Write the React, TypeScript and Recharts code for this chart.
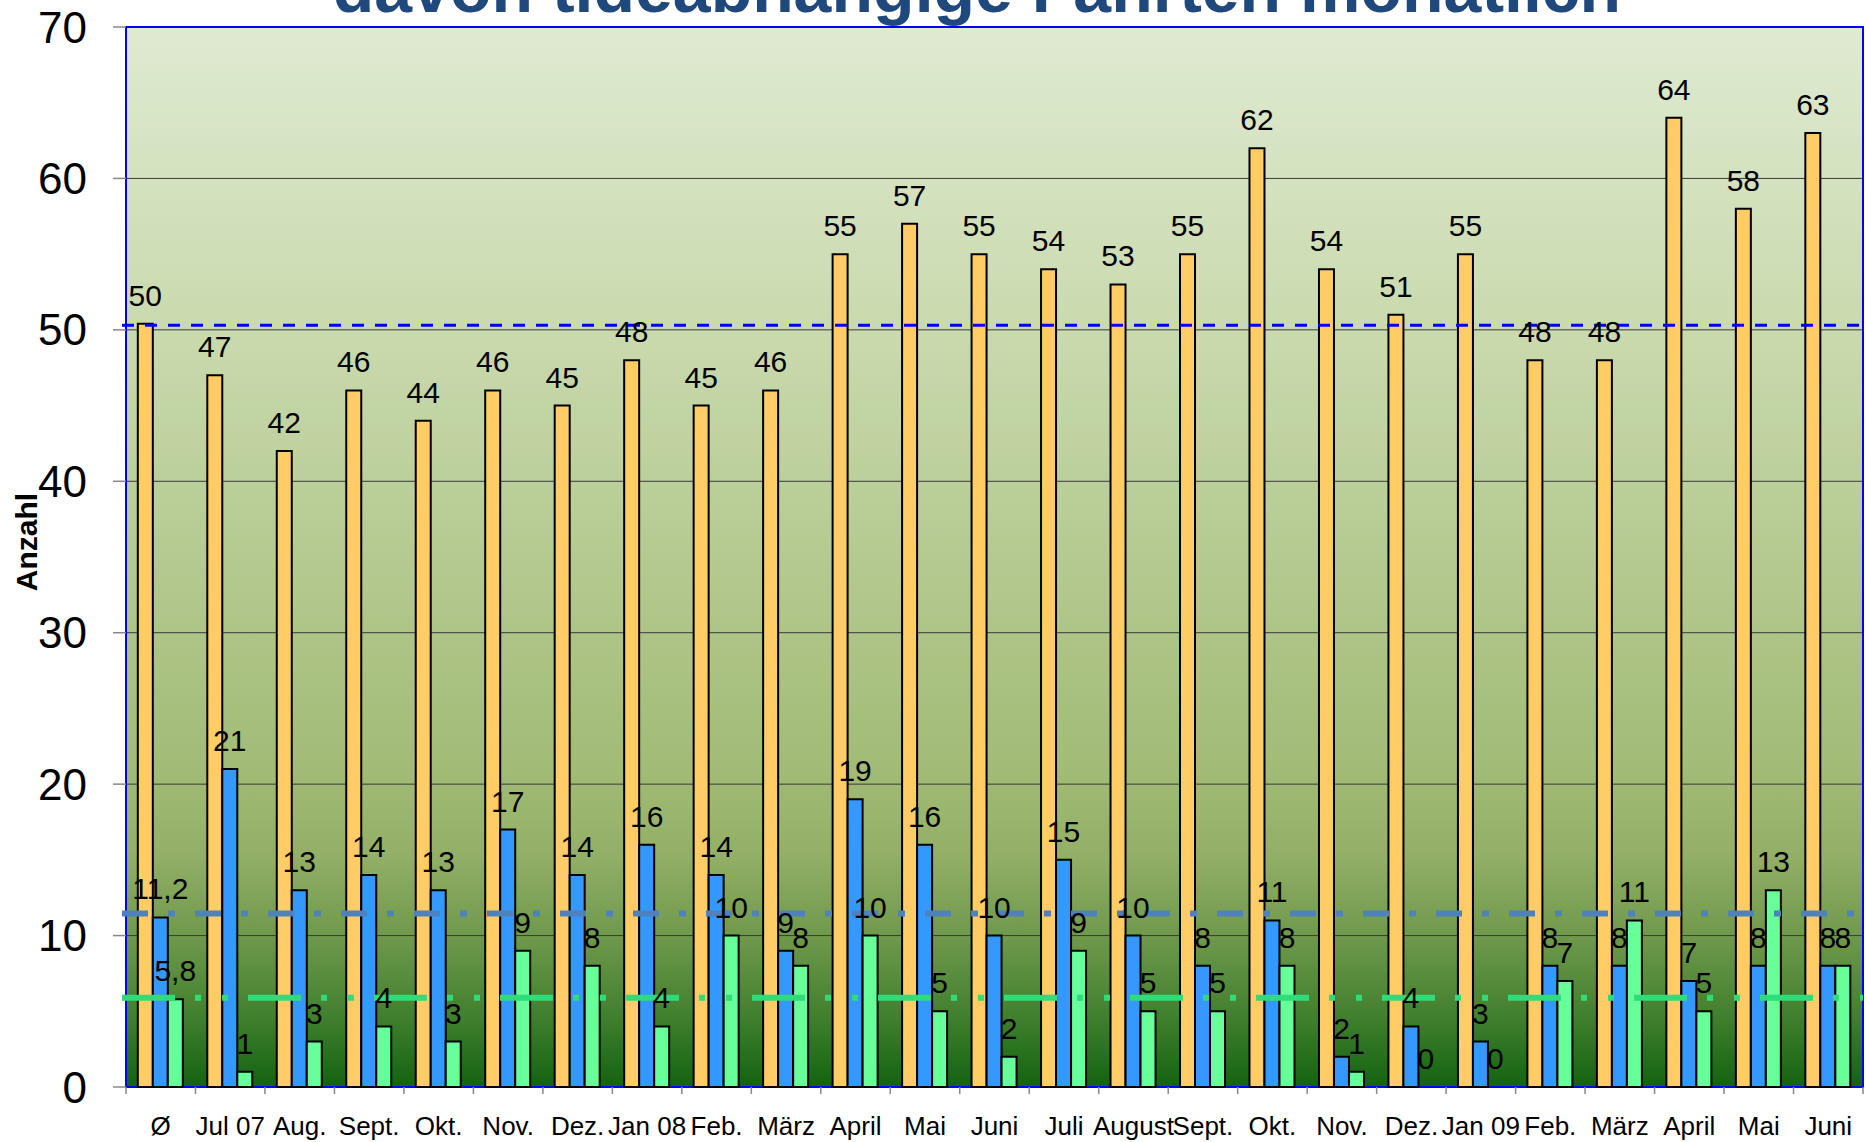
import React from 'react';
import { BarChart, Bar, XAxis, YAxis, CartesianGrid, ReferenceLine, ReferenceArea, LabelList } from 'recharts';

const categories = ['Ø', 'Jul 07', 'Aug.', 'Sept.', 'Okt.', 'Nov.', 'Dez.', 'Jan 08', 'Feb.', 'März', 'April', 'Mai', 'Juni', 'Juli', 'August', 'Sept.', 'Okt.', 'Nov.', 'Dez.', 'Jan 09', 'Feb.', 'März', 'April', 'Mai', 'Juni'];
const fahrtenGesamt = [50.4, 47, 42, 46, 44, 46, 45, 48, 45, 46, 55, 57, 55, 54, 53, 55, 62, 54, 51, 55, 48, 48, 64, 58, 63];
const tideabhaengigA = [11.2, 21, 13, 14, 13, 17, 14, 16, 14, 9, 19, 16, 10, 15, 10, 8, 11, 2, 4, 3, 8, 8, 7, 8, 8];
const tideabhaengigB = [5.8, 1, 3, 4, 3, 9, 8, 4, 10, 8, 10, 5, 2, 9, 5, 5, 8, 1, 0, 0, 7, 11, 5, 13, 8];
const yTicks = [0, 10, 20, 30, 40, 50, 60, 70];
const avgGesamt = 50.3;
const avgA = 11.45;
const avgB = 5.9;

const data = categories.map((c, i) => ({
  key: `${i}`,
  name: c,
  gesamt: fahrtenGesamt[i],
  a: tideabhaengigA[i],
  b: tideabhaengigB[i],
}));

const W = 1867;
const H = 1142;
const LEFT = 126;
const RIGHT = 4;
const CAT_W = (W - LEFT - RIGHT) / categories.length;
const LABEL_OFFSET = 18;

const XTick = (props: any) => {
  const { x, y, payload } = props;
  const idx = payload?.index ?? Number(payload?.value);
  const off = typeof payload?.offset === 'number' && payload.offset > 0 ? payload.offset : CAT_W / 2;
  const isLast = idx === categories.length - 1;
  return (
    <g>
      <line x1={x - off} x2={x - off} y1={y} y2={y + 7} stroke="#888" strokeWidth={1.5} />
      {isLast && <line x1={x + off} x2={x + off} y1={y} y2={y + 7} stroke="#888" strokeWidth={1.5} />}
      <text x={x} y={y + 48} textAnchor="middle" fontSize={26} fill="#000">
        {categories[idx]}
      </text>
    </g>
  );
};

const fmtInt = (v: any) => String(Math.round(Number(v)));
const fmtDec = (v: any) => String(v).replace('.', ',');

// Labels for zero-valued green bars (drawn next to the blue bar of the same category)
const zeroGreenLabel = (p: any) => {
  const i = p.index;
  if (i == null || tideabhaengigB[i] !== 0) return null;
  const vb = p.viewBox ?? p;
  if (vb == null || vb.x == null) return null;
  const baseY = vb.y + vb.height;
  const cx = vb.x + vb.width * 1.5;
  return (
    <text key={`z-${i}`} x={cx} y={baseY - LABEL_OFFSET} textAnchor="middle" fontSize={30} fill="#000">
      {fmtDec(tideabhaengigB[i])}
    </text>
  );
};

const extendLine = (p: any) => (
  <line x1={p.x1 - 4} y1={p.y1} x2={p.x2} y2={p.y2} stroke={p.stroke} strokeWidth={p.strokeWidth} strokeDasharray={p.strokeDasharray} fill="none" />
);

export default function App() {
  return (
    <div style={{ position: 'absolute', left: 0, top: 0, width: W, height: H, background: '#fff', fontFamily: '"Liberation Sans", Arial, sans-serif' }}>
      <BarChart width={W} height={H} data={data} margin={{ top: 27, right: RIGHT, bottom: 0, left: 0 }} barGap={0} barCategoryGap="17%">
        <defs>
          <linearGradient id="bgGrad" x1="0" y1="0" x2="0" y2="1">
            <stop offset="0%" stopColor="#DFEAD1" />
            <stop offset="30%" stopColor="#C8D9AC" />
            <stop offset="55%" stopColor="#B0C68A" />
            <stop offset="70%" stopColor="#A2BB76" />
            <stop offset="78%" stopColor="#93B066" />
            <stop offset="86%" stopColor="#6E984A" />
            <stop offset="93%" stopColor="#43812F" />
            <stop offset="100%" stopColor="#136311" />
          </linearGradient>
        </defs>
        <CartesianGrid vertical={false} fill="url(#bgGrad)" fillOpacity={1} stroke="#3a3a3a" strokeWidth={1} />
        <XAxis dataKey="key" height={55} axisLine={false} tickLine={false} tickSize={0} tickMargin={0} interval={0} tick={<XTick />} />
        <YAxis width={LEFT} domain={[0, 70]} ticks={yTicks} tickSize={13} tickMargin={26} axisLine={false} tickLine={{ stroke: '#888', strokeWidth: 1.5 }} tick={{ fontSize: 44, fill: '#000' }} />
        <Bar dataKey="gesamt" fill="#FFCC66" stroke="#000" strokeWidth={2} isAnimationActive={false}>
          <LabelList dataKey="gesamt" position="top" offset={LABEL_OFFSET} formatter={fmtInt} fill="#000" fontSize={30} />
        </Bar>
        <Bar dataKey="a" fill="#3399FF" stroke="#000" strokeWidth={2} isAnimationActive={false}>
          <LabelList dataKey="a" position="top" offset={LABEL_OFFSET} formatter={fmtDec} fill="#000" fontSize={30} />
          <LabelList dataKey="a" content={zeroGreenLabel} />
        </Bar>
        <Bar dataKey="b" fill="#66FF99" stroke="#000" strokeWidth={2} isAnimationActive={false}>
          <LabelList dataKey="b" position="top" offset={LABEL_OFFSET} formatter={fmtDec} fill="#000" fontSize={30} />
        </Bar>
        <ReferenceArea y1={0} y2={70} fill="none" fillOpacity={0} stroke="#0000FF" strokeWidth={2} ifOverflow="visible" />
        <ReferenceLine y={avgGesamt} stroke="#0000FF" strokeWidth={3} strokeDasharray="12 11" shape={extendLine} />
        <ReferenceLine y={avgA} stroke="#4F81BD" strokeWidth={6} strokeDasharray="26 20 7 20" shape={extendLine} />
        <ReferenceLine y={avgB} stroke="#2FDC7A" strokeWidth={6} strokeDasharray="53 20 6 21 6 20" shape={extendLine} />
        <text x={977} y={12} textAnchor="middle" fontSize={68} fontWeight="bold" fill="#1F497D">
          davon tideabhängige Fahrten monatlich
        </text>
        <text x={37} y={542} transform="rotate(-90 37 542)" textAnchor="middle" fontSize={30} fontWeight="bold" fill="#000">
          Anzahl
        </text>
      </BarChart>
    </div>
  );
}
